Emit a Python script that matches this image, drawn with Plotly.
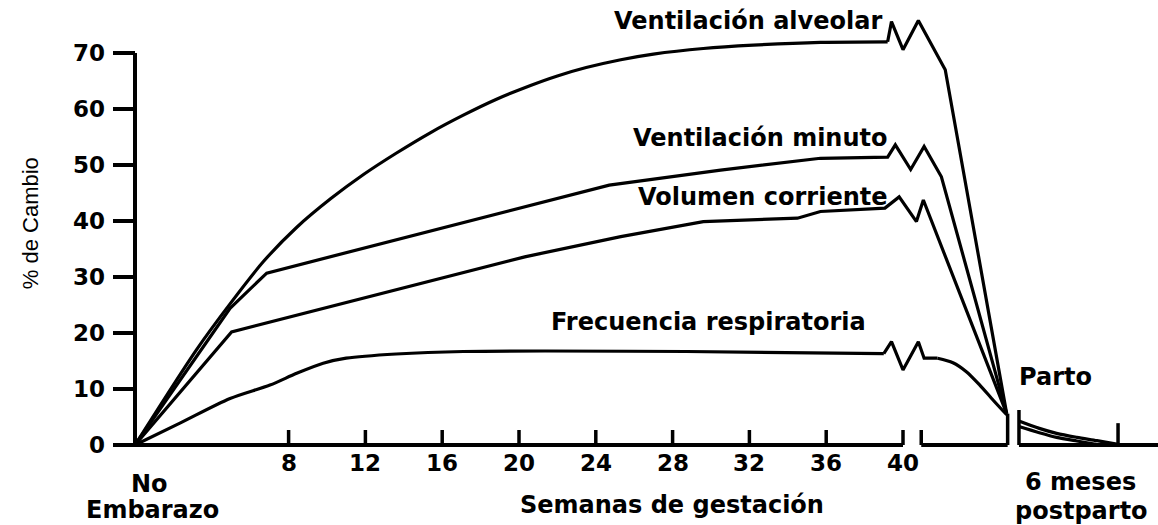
import plotly.graph_objects as go

# weeks of gestation -> % change
alv_w = [0, 3.2, 4.95, 6.7, 8.4, 10.2, 11.9, 13.6, 15.4, 17.1, 18.8, 20.6, 22.0, 23.5,
         25.3, 27.0, 29.6, 32.2, 35.7, 39.2, 39.4, 40.0, 40.8, 42.2, 45.4]
alv_v = [0, 17.0, 25.2, 32.8, 38.8, 44.0, 48.3, 52.1, 55.8, 58.9, 61.7, 64.2, 65.9, 67.4,
         68.8, 69.8, 70.8, 71.4, 71.9, 72.0, 75.6, 70.6, 75.8, 67.0, 5.6]

min_w = [0, 3.2, 4.95, 6.86, 24.7, 30.5, 35.7, 39.2, 39.6, 40.4, 41.1, 42.0, 45.4]
min_v = [0, 15.8, 24.4, 30.7, 46.4, 49.1, 51.2, 51.4, 53.6, 49.2, 53.3, 47.9, 5.6]

tid_w = [0, 5.03, 20.3, 25.3, 29.6, 34.5, 35.7, 39.06, 39.8, 40.7, 41.06, 45.4]
tid_v = [0, 20.2, 33.6, 37.2, 39.9, 40.5, 41.7, 42.3, 44.3, 39.9, 43.75, 5.6]

rr_w = [0, 2.34, 4.95, 7.03, 8.42, 9.8, 11.0, 13.6, 17.1, 28.7, 39.0, 39.4, 40.0, 40.8,
        41.1, 41.8, 42.6, 43.3, 44.0, 44.7, 45.4]
rr_v = [0, 3.9, 8.3, 10.7, 12.8, 14.6, 15.5, 16.25, 16.7, 16.7, 16.3, 18.45, 13.4, 18.45,
        15.5, 15.5, 14.7, 13.1, 10.7, 8.0, 5.4]

# postpartum decay
pp_hi_w = [46.04, 47.1, 48.0, 49.05, 50.1, 51.2]
pp_hi_v = [4.3, 2.97, 2.08, 1.37, 0.77, 0.1]
pp_lo_w = [46.04, 47.1, 48.0, 49.05, 50.2]
pp_lo_v = [3.3, 2.2, 1.37, 0.71, 0.05]

x_ticks = [8, 12, 16, 20, 24, 28, 32, 36, 40]
y_ticks = [0, 10, 20, 30, 40, 50, 60, 70]

# broken x axis: week where each piece starts / ends
restart_w = 40.95   # after the break at 40
parto_w = 45.45     # delivery
post_w = 46.04      # start of postpartum piece
six_months_w = 51.2

labels = ["Ventilación alveolar", "Ventilación minuto", "Volumen corriente", "Frecuencia respiratoria"]

# figure geometry
W, H = 1158, 525
X0_PX, PX_WEEK = 135, 19.2
Y0_PX, PX_PCT = 445, 5.6
xmin = -X0_PX / PX_WEEK
xmax = (W - X0_PX) / PX_WEEK
ymin = -(H - Y0_PX) / PX_PCT
ymax = Y0_PX / PX_PCT

TICK = 15 / PX_PCT        # x ticks, pointing up
YTICK = 22 / PX_WEEK      # y ticks, pointing left
FONT = "DejaVu Sans"

fig = go.Figure()


def add_line(x, y, width=3.2, shape="linear"):
    fig.add_trace(go.Scatter(x=x, y=y, mode="lines", hoverinfo="skip", showlegend=False,
                             line=dict(color="black", width=width, shape=shape, smoothing=0.8)))


# curves: smooth parts as splines, the axis-break zigzags straight
add_line(alv_w[:20], alv_v[:20], shape="spline")
add_line(alv_w[19:], alv_v[19:])
add_line(min_w, min_v)
add_line(tid_w, tid_v)
add_line(rr_w[:11], rr_v[:11], shape="spline")
add_line(rr_w[10:16], rr_v[10:16])
add_line(rr_w[15:], rr_v[15:], shape="spline")
add_line(pp_hi_w, pp_hi_v, shape="spline")
add_line(pp_lo_w, pp_lo_v, shape="spline")

# y axis + ticks
ax_x, ax_y = [0, 0, None], [0, y_ticks[-1], None]
for t in y_ticks:
    ax_x += [-YTICK, 0, None]
    ax_y += [t, t, None]
add_line(ax_x, ax_y, 4)

# x axis pieces
seg_x = [0, x_ticks[-1], None, restart_w, parto_w, None, post_w, xmax]
seg_y = [0, 0, None, 0, 0, None, 0, 0]
add_line(seg_x, seg_y, 4)

# x ticks
tx, ty = [], []
for t in x_ticks + [restart_w]:
    tx += [t, t, None]
    ty += [0, TICK, None]
tx += [parto_w, parto_w, None, post_w, post_w, None, six_months_w, six_months_w]
ty += [0, 5.6, None, 0, 6.25, None, 0, 3.9]
add_line(tx, ty, 3.5)

annotations = []


def label(text, x, y, size=24, xanchor="center", bold=True, angle=0, family=FONT):
    annotations.append(dict(text=text, x=x, y=y, xref="x", yref="y", showarrow=False,
                            xanchor=xanchor, yanchor="middle", textangle=angle,
                            font=dict(family=family, size=size, color="black",
                                      weight="bold" if bold else "normal")))


for t in x_ticks:
    label(str(t), t, -3.3, size=23)
for t in y_ticks:
    label(str(t), -1.46, t, size=23, xanchor="right")

label(labels[0], 39.0, 75.7, xanchor="right")
label(labels[1], 39.3, 54.8, xanchor="right")
label(labels[2], 39.3, 44.3, xanchor="right")
label(labels[3], 38.2, 22.0, xanchor="right")
label("Parto", 45.94, 12.1, xanchor="left")
label("No", 0.78, -6.9)
label("Embarazo", 0.9, -11.6)
label("Semanas de gestación", 27.97, -10.7)
label("6 meses", 49.27, -6.6)
label("postparto", 49.3, -11.8)
label("% de Cambio", -5.47, 39.6, size=22, bold=False, angle=-90, family="Liberation Sans")

fig.update_layout(
    width=W, height=H,
    margin=dict(l=0, r=0, t=0, b=0),
    paper_bgcolor="white", plot_bgcolor="white",
    xaxis=dict(range=[xmin, xmax], visible=False, fixedrange=True),
    yaxis=dict(range=[ymin, ymax], visible=False, fixedrange=True),
    annotations=annotations,
)

# drop the default page margin so the 1158x525 figure fills the window exactly
fig.write_html("out.html", config={"displayModeBar": False},
               post_script="document.body.style.margin = '0';")
